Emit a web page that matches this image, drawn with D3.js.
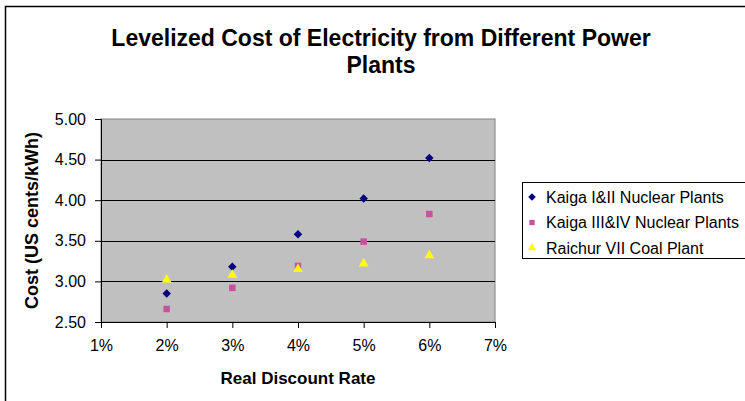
<!DOCTYPE html>
<html>
<head>
<meta charset="utf-8">
<script src="https://cdn.jsdelivr.net/npm/d3@7"></script>
<style>
    body { margin: 0; background: #fff; }
    text { font-family: "Liberation Sans", Arial, sans-serif; fill: #000; }
</style>
</head>
<body>
<div id="picture"></div>
<script>
var rates = [2, 3, 4, 5, 6];
var kaiga12 = [2.85, 3.18, 3.58, 4.02, 4.52];
var kaiga34 = [2.66, 2.92, 3.19, 3.49, 3.83];
var raichur = [3.02, 3.08, 3.15, 3.22, 3.32];
var seriesNames = ["Kaiga I&II Nuclear Plants", "Kaiga III&IV Nuclear Plants", "Raichur VII Coal Plant"];
var xTicks = [1, 2, 3, 4, 5, 6, 7];
var yTicks = [2.5, 3, 3.5, 4, 4.5, 5];
var titleLines = ["Levelized Cost of Electricity from Different Power", "Plants"];

function draw() {
    "use strict";

    var width = 745, height = 401;
    var left = 101, right = 495, top = 119, bottom = 322;

    var svg = d3.select("#picture")
        .append("svg")
        .attr("width", width)
        .attr("height", height);

    // outer chart frame (right and bottom edges fall outside the picture)
    svg.append("rect")
        .attr("x", 5.5).attr("y", 6.5)
        .attr("width", 800).attr("height", 450)
        .attr("fill", "#fff")
        .attr("stroke", "#000")
        .attr("stroke-width", 1.5);

    var x_scale = d3.scaleLinear().domain([1, 7]).range([left, right]);
    var y_scale = d3.scaleLinear().domain([2.5, 5]).range([bottom, top]);

    // plot area
    svg.append("rect")
        .attr("x", left).attr("y", top)
        .attr("width", right - left).attr("height", bottom - top)
        .attr("fill", "#c0c0c0")
        .attr("stroke", "#808080")
        .attr("stroke-width", 1);

    svg.append("g")
        .selectAll("line")
        .data(yTicks.filter(function (d) { return d > 2.5 && d < 5; }))
        .enter()
        .append("line")
        .attr("x1", left).attr("x2", right)
        .attr("y1", function (d) { return Math.round(y_scale(d)) + 0.5; })
        .attr("y2", function (d) { return Math.round(y_scale(d)) + 0.5; })
        .attr("stroke", "#000")
        .attr("stroke-width", 1);

    var x_axis = d3.axisBottom().scale(x_scale)
        .tickValues(xTicks)
        .tickSize(6)
        .tickPadding(12)
        .tickFormat(function (d) { return d + "%"; });

    var gx = svg.append("g")
        .attr("class", "x_axis")
        .attr("transform", "translate(0, " + bottom + ")")
        .call(x_axis);

    var y_axis = d3.axisLeft().scale(y_scale)
        .tickValues(yTicks)
        .tickSize(6)
        .tickPadding(9)
        .tickFormat(d3.format(".2f"));

    var gy = svg.append("g")
        .attr("class", "y_axis")
        .attr("transform", "translate(" + left + ", 0)")
        .call(y_axis);

    [gx, gy].forEach(function (g) {
        g.select(".domain").attr("stroke", "#000").attr("stroke-width", 1);
        g.selectAll(".tick line").attr("stroke", "#000");
        g.selectAll(".tick text")
            .attr("font-family", "Liberation Sans, Arial, sans-serif")
            .attr("font-size", 16)
            .attr("fill", "#000");
    });

    // title
    svg.append("g")
        .selectAll("text")
        .data(titleLines)
        .enter()
        .append("text")
        .text(function (d) { return d; })
        .attr("x", 381)
        .attr("y", function (d, i) { return 46 + i * 27; })
        .attr("text-anchor", "middle")
        .attr("font-size", 23)
        .attr("font-weight", "bold");

    svg.append("text")
        .text("Real Discount Rate")
        .attr("x", (left + right) / 2)
        .attr("y", 384)
        .attr("text-anchor", "middle")
        .attr("font-size", 17)
        .attr("font-weight", "bold");

    svg.append("text")
        .text("Cost (US cents/kWh)")
        .attr("transform", "translate(38, " + (top + bottom) / 2 + ") rotate(-90)")
        .attr("text-anchor", "middle")
        .attr("font-size", 18)
        .attr("font-weight", "bold");

    var series = [
        { name: seriesNames[0], values: kaiga12, color: "#000080", symbol: d3.symbolSquare, rot: 45, size: 36 },
        { name: seriesNames[1], values: kaiga34, color: "#c8509f", symbol: d3.symbolSquare, rot: 0, size: 42 },
        { name: seriesNames[2], values: raichur, color: "#ffff00", symbol: d3.symbolTriangle, rot: 0, size: 42 }
    ];

    series.forEach(function (s) {
        svg.append("g")
            .selectAll("path")
            .data(rates)
            .enter()
            .append("path")
            .attr("d", d3.symbol().type(s.symbol).size(s.size))
            .attr("transform", function (d, i) {
                return "translate(" + x_scale(d) + "," + y_scale(s.values[i]) + ") rotate(" + s.rot + ")";
            })
            .attr("fill", s.color);
    });

    // legend
    var legend = svg.append("g").attr("transform", "translate(522, 182)");
    legend.append("rect")
        .attr("x", 0.5).attr("y", 0.5)
        .attr("width", 240).attr("height", 76)
        .attr("fill", "#fff")
        .attr("stroke", "#000")
        .attr("stroke-width", 1);

    var item = legend.selectAll(".item")
        .data(series)
        .enter()
        .append("g")
        .attr("class", "item")
        .attr("transform", function (d, i) { return "translate(0," + (15 + i * 25.5) + ")"; });

    item.append("path")
        .attr("d", function (d) { return d3.symbol().type(d.symbol).size(28)(); })
        .attr("transform", function (d) { return "translate(10, 0) rotate(" + d.rot + ")"; })
        .attr("fill", function (d) { return d.color; });

    item.append("text")
        .text(function (d) { return d.name; })
        .attr("x", 24)
        .attr("y", 5.5)
        .attr("font-size", 16);
}

draw();
</script>
</body>
</html>
